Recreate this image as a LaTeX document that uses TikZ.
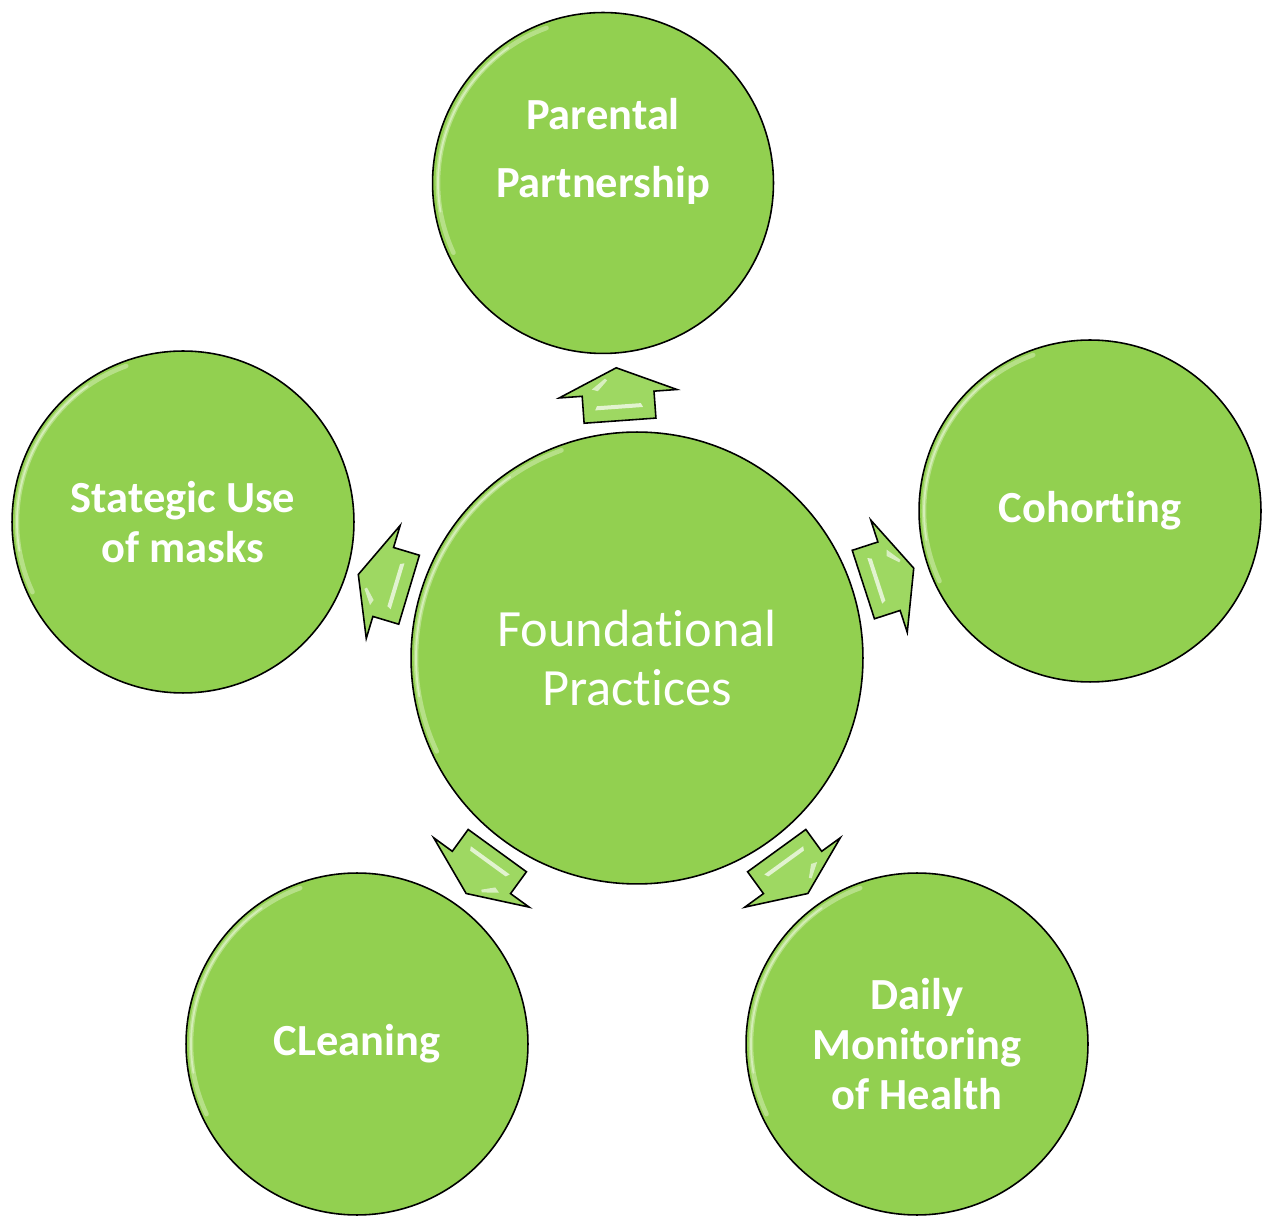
\documentclass[tikz,border=0pt]{standalone}
\usepackage{fontspec}
\setmainfont{Carlito}[RawFeature={-liga;-clig;-calt;-dlig;-rlig}]
\usetikzlibrary{calc}
\definecolor{leafgreen}{HTML}{92D050}
\definecolor{arrowgreen}{HTML}{9ED862}
\definecolor{glossgreen}{HTML}{E2F5CC}

\tikzset{
  bubble/.style={circle, draw=black, line width=0.9pt, fill=leafgreen, inner sep=0pt},
  bubtext/.style={text=white, align=center, font=\fontsize{25.3}{28.5}\selectfont\bfseries},
  hubtext/.style={text=white, align=center, font=\fontsize{29.8}{33.5}\selectfont},
  gloss/.style={glossgreen, line width=2.6pt, line cap=round, opacity=0.45},
  blockarrow/.style={draw=black, line width=0.9pt, fill=arrowgreen, line join=miter}
}

\newcommand{\glossarc}[2]{%
  \draw[gloss] ($(#1)+(110:#2)$) arc[start angle=110, end angle=205, radius=#2];
  \draw[gloss, line width=1pt, opacity=0.7] ($(#1)+(125:#2)$) arc[start angle=125, end angle=190, radius=#2];}

\begin{document}
\begin{tikzpicture}[x=0.02cm, y=0.02cm]
\useasboundingbox (0,0) rectangle (1270,1217);

% circles
\node[bubble, minimum size=9.04cm] (C) at (637,559) {};
\node[bubble, minimum size=6.82cm] (P) at (603,1034) {};
\node[bubble, minimum size=6.84cm] (H) at (1090,706) {};
\node[bubble, minimum size=6.84cm] (M) at (183,695) {};
\node[bubble, minimum size=6.84cm] (L) at (357,173) {};
\node[bubble, minimum size=6.84cm] (D) at (917,173) {};

\glossarc{C}{221}
\glossarc{P}{165}
\glossarc{H}{166}
\glossarc{M}{166}
\glossarc{L}{166}
\glossarc{D}{166}

% labels
\node[hubtext] (Ctext) at (C) {Foundational\\Practices};
\node[bubtext, font=\fontsize{25.3}{38.7}\selectfont\bfseries] (Ptext) at ($(P)+(0,32)$) {Parental\\Partnership};
\node[bubtext] (Htext) at (H) {Cohorting};
\node[bubtext] (Mtext) at (M) {Stategic Use\\of masks};
\node[bubtext] (Ltext) at (L) {CLeaning};
\node[bubtext] (Dtext) at (D) {Daily\\Monitoring\\of Health};

% block arrows from the hub
\foreach \target/\ang in {P/94.1, H/18.0, M/163.3, L/234.0, D/306.0}{
  \begin{scope}[shift={($(C)!5.3cm!(\target)$)}, rotate=\ang]
    \draw[blockarrow] (-27,-36) -- (0,-36) -- (0,-59) -- (26,0) -- (0,59) -- (0,36) -- (-27,36) -- cycle;
    \fill[white, opacity=0.7] (-15,-24) -- (-11,-22) -- (-11,22) -- (-15,24) -- cycle;
    \fill[white, opacity=0.6] (4,20) -- (14,10) -- (16,12) -- (6,26) -- cycle;
  \end{scope}
}

\end{tikzpicture}
\end{document}
